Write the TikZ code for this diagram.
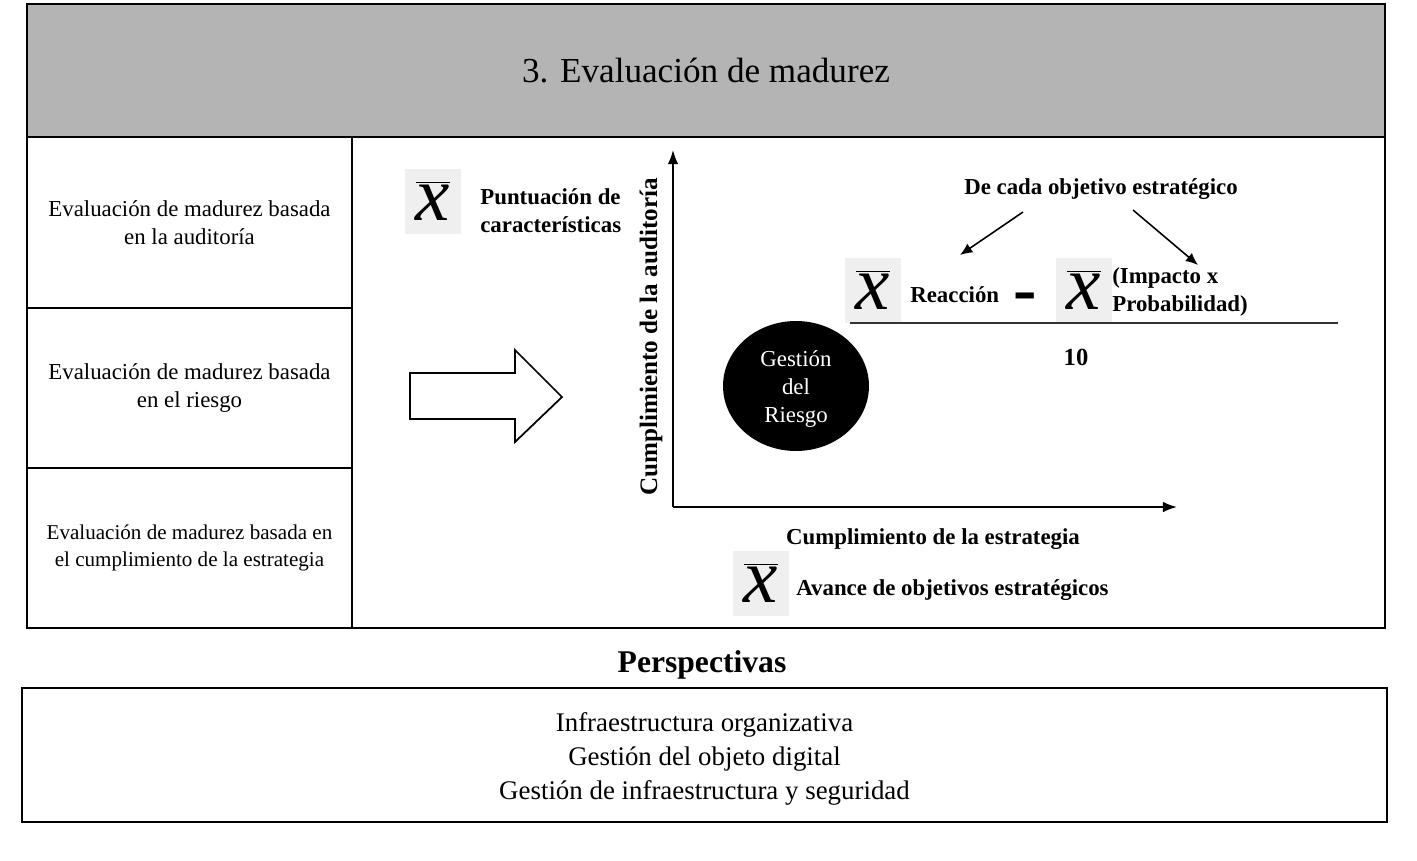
\documentclass[tikz,border=0pt]{standalone}
\usepackage{fontspec}
\setmainfont{Liberation Serif}
\usepackage{tikz}
\usetikzlibrary{positioning,shapes.geometric,arrows.meta}

\definecolor{bandgray}{HTML}{B4B4B4}
\definecolor{boxgray}{HTML}{EFEFEF}

\tikzset{
  evalbox/.style={draw, line width=0.9pt, minimum width=6.5cm, align=center,
    font=\fontsize{13}{16}\selectfont},
  xbarbox/.style={fill=boxgray, minimum width=1.12cm, minimum height=1.3cm, inner sep=0pt,
    font=\fontsize{44}{44}\selectfont},
  boldlbl/.style={font=\fontsize{13}{16}\selectfont\bfseries, align=left, inner sep=0pt}
}
\newcommand{\xbar}{$\overline{\textit{x}}$}

\begin{document}
\begin{tikzpicture}[x=0.02cm, y=-0.02cm]
    \useasboundingbox (0,0) rectangle (1417,860);

    % Title band
    \node[draw, line width=1pt, fill=bandgray, minimum width=27.16cm, minimum height=2.66cm,
      font=\fontsize{20}{24}\selectfont] (title) at (706,70.5) {3. Evaluación de madurez};

    % Right panel frame
    \draw[line width=1pt] (352,137) rectangle (1385,628);

    % Left column
    \node[evalbox, minimum height=3.42cm] (audit) at (189.5,222.5)
      {Evaluación de madurez basada\\en la auditoría};
    \node[evalbox, minimum height=3.2cm] (risk) at (189.5,388)
      {Evaluación de madurez basada\\en el riesgo};
    \node[evalbox, minimum height=3.2cm, font=\fontsize{12}{15}\selectfont] (strat) at (189.5,548)
      {Evaluación de madurez basada en\\el cumplimiento de la estrategia};

    % Block arrow
    \draw[line width=1pt, fill=white] (410,373) -- (515,373) -- (515,350) -- (562,397)
      -- (515,442) -- (515,419) -- (410,419) -- cycle;

    % Draw the axes
    \coordinate (origin) at (673,507);
    \coordinate (ytop) at (673,150);
    \coordinate (xend) at (1177,507);
    \draw[-{Latex[length=8pt,width=6pt]}, line width=1pt] (origin) -- (ytop);
    \draw[-{Latex[length=8pt,width=6pt]}, line width=1pt] (origin) -- (xend);
    \node[rotate=90, font=\fontsize{14.3}{16}\selectfont\bfseries] (ylabel) at (651,337)
      {Cumplimiento de la auditoría};
    \node[font=\fontsize{13}{16}\selectfont\bfseries] (xlabel) at (933,539)
      {Cumplimiento de la estrategia};

    % Mean boxes and their labels
    \node[xbarbox] (xb1) at (433,201) {\xbar};
    \node[boldlbl, anchor=west] (punt) at (480,211) {Puntuación de\\características};
    \node[xbarbox] (xb4) at (761,583) {\xbar};
    \node[boldlbl, anchor=west] (avance) at (796,590) {Avance de objetivos estratégicos};

    % Risk ellipse
    \node[ellipse, fill=black, minimum width=2.92cm, minimum height=2.6cm] (riesgo) at (796,386) {};
    \node[text=white, align=center, font=\fontsize{13}{16}\selectfont] (riesgotxt) at (796,389)
      {Gestión\\del\\Riesgo};

    % Formula
    \node[boldlbl] (decada) at (1101,189) {De cada objetivo estratégico};
    \node[xbarbox] (xb2) at (873,290) {\xbar};
    \node[boldlbl, anchor=west] (reac) at (910,295) {Reacción};
    \node[font=\fontsize{40}{40}\selectfont\bfseries, inner sep=0pt] (minus) at (1025,303) {-};
    \node[xbarbox] (xb3) at (1084,290) {\xbar};
    \node[boldlbl, anchor=west] (impacto) at (1112,292) {(Impacto x\\Probabilidad)};
    \coordinate (ra) at (1023,212);
    \coordinate (rb) at (960,255);
    \coordinate (ia) at (1133,210);
    \coordinate (ib) at (1198,265);
    \draw[-{Latex[length=7pt,width=6pt]}, line width=0.9pt] (ra) -- (rb);
    \draw[-{Latex[length=7pt,width=6pt]}, line width=0.9pt] (ia) -- (ib);
    \coordinate (fl) at (850,323);
    \coordinate (fr) at (1338,323);
    \draw[line width=1pt, black!80] (fl) -- (fr);
    \node[font=\fontsize{14}{16}\selectfont\bfseries] (ten) at (1076,357) {10};

    % Perspectives
    \node[font=\fontsize{18}{20}\selectfont\bfseries] (persp) at (702,665) {Perspectivas};
    \node[draw, line width=1pt, minimum width=27.3cm, minimum height=2.68cm] (perspbox) at (704.5,755) {};
    \node[align=center, font=\fontsize{15.3}{19.3}\selectfont] (persptxt) at (704.5,759)
      {Infraestructura organizativa\\Gestión del objeto digital\\Gestión de infraestructura y seguridad};
\end{tikzpicture}
\end{document}
